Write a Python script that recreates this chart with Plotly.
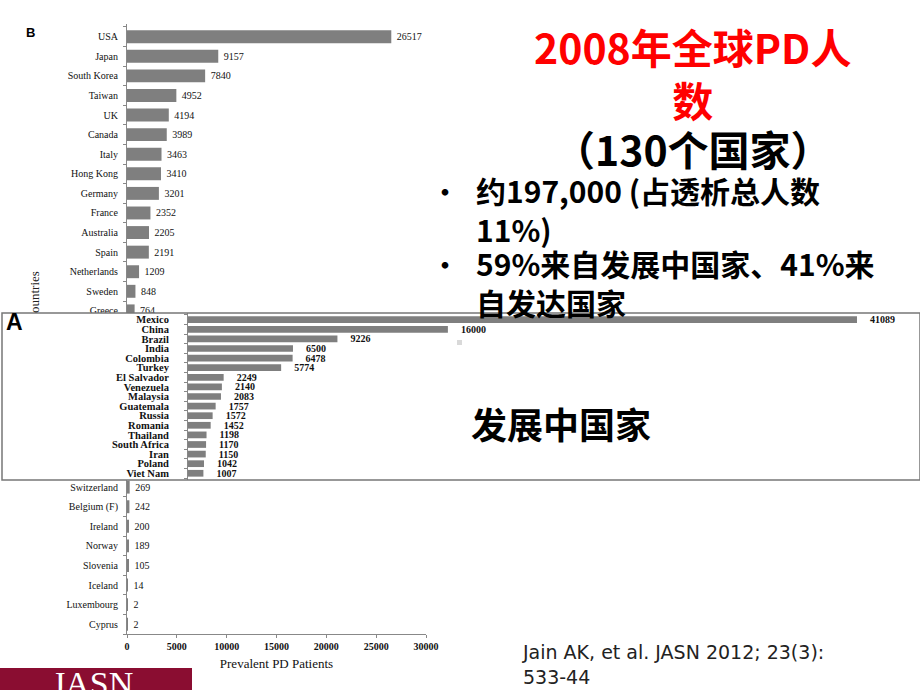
import plotly.graph_objects as go

W, H = 920, 690

def fx(p):
    return p / W

def fy(p):
    return 1 - p / H

# ---------------- Data ----------------
# Panel B (developed countries) - visible rows above the overlay
b_countries_top = ["USA", "Japan", "South Korea", "Taiwan", "UK", "Canada", "Italy",
                   "Hong Kong", "Germany", "France", "Australia", "Spain",
                   "Netherlands", "Sweden", "Greece"]
b_values_top = [26517, 9157, 7840, 4952, 4194, 3989, 3463, 3410, 3201, 2352, 2205,
                2191, 1209, 848, 764]
# rows hidden beneath panel A (unreadable in the source)
n_hidden_rows = 8
# visible rows below the overlay
b_countries_bottom = ["Switzerland", "Belgium (F)", "Ireland", "Norway", "Slovenia",
                      "Iceland", "Luxembourg", "Cyprus"]
b_values_bottom = [269, 242, 200, 189, 105, 14, 2, 2]
b_xticks = [0, 5000, 10000, 15000, 20000, 25000, 30000]

# Panel A (developing countries)
a_countries = ["Mexico", "China", "Brazil", "India", "Colombia", "Turkey", "El Salvador",
               "Venezuela", "Malaysia", "Guatemala", "Russia", "Romania", "Thailand",
               "South Africa", "Iran", "Poland", "Viet Nam"]
a_values = [41089, 16000, 9226, 6500, 6478, 5774, 2249, 2140, 2083, 1757, 1572, 1452,
            1198, 1170, 1150, 1042, 1007]

hidden_slots = [" " * (i + 1) for i in range(n_hidden_rows)]
b_category_order = b_countries_top + hidden_slots + b_countries_bottom
b_countries = b_countries_top + b_countries_bottom
b_values = b_values_top + b_values_bottom

BAR = "#7f7f7f"
SERIF = "Liberation Serif"
CJK = "Noto Sans CJK SC"

fig = go.Figure()

fig.add_trace(go.Bar(
    x=b_values, y=b_countries, orientation="h",
    marker=dict(color=BAR, line=dict(width=0)),
    width=0.66,
    text=["\u00a0" + str(v) for v in b_values], textposition="outside",
    textfont=dict(family=SERIF, size=10, color="#111"),
    constraintext="none",
    cliponaxis=False, xaxis="x", yaxis="y", showlegend=False,
))

fig.add_trace(go.Bar(
    x=a_values, y=a_countries, orientation="h",
    marker=dict(color=BAR, line=dict(width=0)),
    width=0.7,
    text=["\u00a0\u00a0\u00a0\u00a0" + str(v) for v in a_values], textposition="outside",
    textfont=dict(family=SERIF, size=10, color="#111", weight="bold"),
    constraintext="none",
    cliponaxis=False, xaxis="x2", yaxis="y2", showlegend=False,
))

n_b = len(b_category_order)
n_a = len(a_countries)

fig.update_layout(
    width=W, height=H,
    margin=dict(l=0, r=0, t=0, b=0, pad=0, autoexpand=False),
    paper_bgcolor="white", plot_bgcolor="white",
    showlegend=False,
    xaxis=dict(
        domain=[fx(127), fx(426)], range=[0, 30000], anchor="y", automargin=False,
        showline=True, linecolor="#888", linewidth=1,
        ticks="outside", ticklen=3, tickcolor="#888",
        tickvals=b_xticks, ticktext=[str(v) for v in b_xticks],
        tickfont=dict(family=SERIF, size=10, color="#111", weight="bold"),
        showgrid=False, zeroline=False,
        title=dict(text="Prevalent PD Patients", standoff=7,
                   font=dict(family=SERIF, size=13, color="#111")),
    ),
    yaxis=dict(
        domain=[fy(634), fy(24)], anchor="x", automargin=False,
        type="category", categoryorder="array", categoryarray=b_category_order,
        tickmode="array", tickvals=b_countries,
        range=[n_b - 0.5, -0.65],
        showline=True, linecolor="#888", linewidth=1,
        ticks="outside", ticklen=3, tickcolor="#888", tickson="boundaries",
        tickfont=dict(family=SERIF, size=10, color="#111"),
        ticklabelstandoff=6,
        showgrid=False, zeroline=False,
    ),
    xaxis2=dict(
        domain=[fx(2), 1.0], range=[-11345, 44953], anchor="y2", automargin=False,
        visible=False, showgrid=False, zeroline=False,
    ),
    yaxis2=dict(
        domain=[fy(480), fy(313)], anchor="free", position=fx(187), automargin=False,
        type="category", categoryorder="array", categoryarray=a_countries,
        tickmode="array", tickvals=a_countries,
        range=[n_a - 0.3, -0.7],
        showline=True, linecolor="#888", linewidth=1,
        ticks="outside", ticklen=3, tickcolor="#888", tickson="boundaries",
        tickfont=dict(family=SERIF, size=10.5, color="#111", weight="bold"),
        ticklabelstandoff=16,
        showgrid=False, zeroline=False,
    ),
)

shapes = [
    # border of panel A
    dict(type="rect", xref="paper", yref="paper", x0=fx(2), x1=1.0, y0=fy(480), y1=fy(313),
         line=dict(color="#777", width=1.5), fillcolor="rgba(0,0,0,0)", layer="above"),
    # JASN banner
    dict(type="rect", xref="paper", yref="paper", x0=0, x1=fx(192), y0=0, y1=fy(668),
         line=dict(width=0), fillcolor="#8a0d31", layer="above"),
    # small grey speck in panel A
    dict(type="rect", xref="paper", yref="paper", x0=fx(457), x1=fx(462), y0=fy(345), y1=fy(340),
         line=dict(width=0), fillcolor="#d9d9d9", layer="above"),
]
fig.update_layout(shapes=shapes)

ann = []

def add(text, x, y, size, color="#000", family=CJK, weight="bold", xanchor="center",
        yanchor="middle", textangle=0, align="center"):
    ann.append(dict(text=text, x=fx(x), y=fy(y), xref="paper", yref="paper",
                    showarrow=False, xanchor=xanchor, yanchor=yanchor, textangle=textangle,
                    align=align,
                    font=dict(family=family, size=size, color=color, weight=weight)))

# panel letters
add("B", 30, 32, 13, family="Liberation Sans")
add("A", 14, 322, 23, family="Liberation Sans")
# partially hidden axis title
add("ountries", 35, 292, 13, color="#222", family=SERIF, weight="normal", textangle=-90)

# slide title
add("2008年全球PD人<br>数", 692, 73, 41, color="#ff0000")
add("（130个国家）", 693, 148, 41)

# bullets
add("•", 445, 190, 26)
add("约197,000 (占透析总人数<br>11%)", 474, 209, 30, xanchor="left", align="left")
add("•", 445, 263, 26)
add("59%来自发展中国家、41%来<br>自发达国家", 474, 282, 30, xanchor="left", align="left")

add("发展中国家", 469, 423, 36, xanchor="left")

# citation
add("Jain AK, et al. JASN 2012; 23(3):<br>533-44", 520, 664, 19, color="#222",
    family="DejaVu Sans", weight="normal", xanchor="left", align="left")

# JASN logo text
add("JASN", 92, 683, 34, color="white", family=SERIF, weight="normal")

fig.update_layout(annotations=ann)

fig.write_html("out.html")
